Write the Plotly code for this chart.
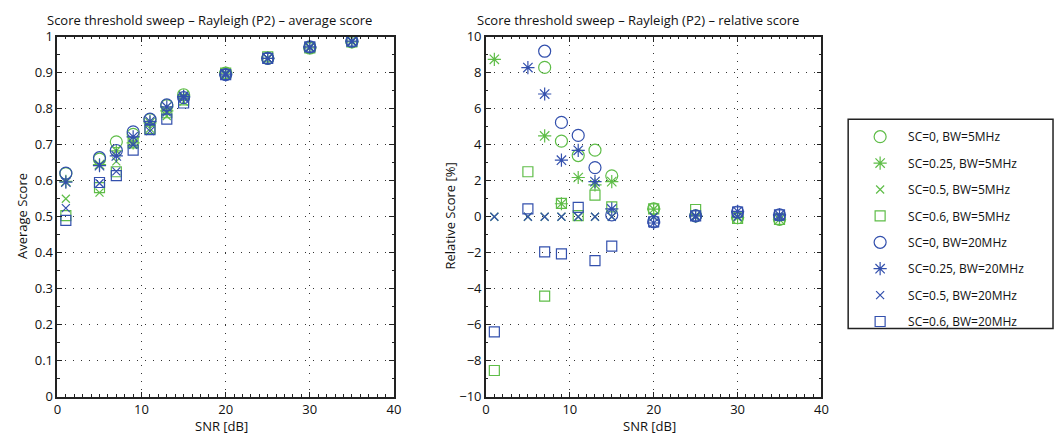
import plotly.graph_objects as go

# SNR sweep points (dB)
snr = [1, 5, 7, 9, 11, 13, 15, 20, 25, 30, 35]

# Average score per configuration
avg_sc0_bw5 = [0.620, 0.660, 0.708, 0.729, 0.770, 0.809, 0.839, 0.899, 0.940, 0.969, 0.986]
avg_sc025_bw5 = [0.598, 0.645, 0.683, 0.705, 0.761, 0.794, 0.836, 0.899, 0.940, 0.969, 0.986]
avg_sc05_bw5 = [0.550, 0.567, 0.654, 0.700, 0.745, 0.780, 0.820, 0.895, 0.940, 0.970, 0.988]
avg_sc06_bw5 = [0.503, 0.581, 0.625, 0.705, 0.745, 0.789, 0.825, 0.899, 0.944, 0.969, 0.986]
avg_sc0_bw20 = [0.621, 0.664, 0.684, 0.736, 0.771, 0.811, 0.831, 0.895, 0.940, 0.972, 0.988]
avg_sc025_bw20 = [0.596, 0.642, 0.669, 0.722, 0.765, 0.805, 0.834, 0.894, 0.940, 0.972, 0.988]
avg_sc05_bw20 = [0.524, 0.593, 0.626, 0.700, 0.738, 0.790, 0.830, 0.898, 0.940, 0.970, 0.987]
avg_sc06_bw20 = [0.490, 0.595, 0.614, 0.685, 0.742, 0.771, 0.816, 0.895, 0.940, 0.972, 0.988]

# Relative score [%] (None = outside the plotted range)
rel_sc0_bw5 = [None, None, 8.3, 4.2, 3.4, 3.7, 2.27, 0.44, 0.05, -0.05, -0.15]
rel_sc025_bw5 = [8.75, None, 4.49, 0.72, 2.18, 1.77, 1.95, 0.42, 0.05, -0.05, -0.15]
rel_sc05_bw5 = [0, 0, 0, 0, 0, 0, 0, 0, 0, 0, 0]
rel_sc06_bw5 = [-8.55, 2.5, -4.42, 0.74, 0.06, 1.2, 0.55, 0.44, 0.40, -0.1, -0.15]
rel_sc0_bw20 = [None, None, 9.2, 5.24, 4.52, 2.73, 0.1, -0.28, 0.05, 0.26, 0.1]
rel_sc025_bw20 = [None, 8.29, 6.82, 3.14, 3.69, 1.95, 0.43, -0.35, 0.05, 0.3, 0.1]
rel_sc05_bw20 = [0, 0, 0, 0, 0, 0, 0, 0, 0, 0, 0]
rel_sc06_bw20 = [-6.4, 0.43, -1.96, -2.07, 0.52, -2.44, -1.64, -0.28, 0.05, 0.26, 0.1]

labels = [
    "SC=0, BW=5MHz", "SC=0.25, BW=5MHz", "SC=0.5, BW=5MHz", "SC=0.6, BW=5MHz",
    "SC=0, BW=20MHz", "SC=0.25, BW=20MHz", "SC=0.5, BW=20MHz", "SC=0.6, BW=20MHz",
]
avg_series = [avg_sc0_bw5, avg_sc025_bw5, avg_sc05_bw5, avg_sc06_bw5,
              avg_sc0_bw20, avg_sc025_bw20, avg_sc05_bw20, avg_sc06_bw20]
rel_series = [rel_sc0_bw5, rel_sc025_bw5, rel_sc05_bw5, rel_sc06_bw5,
              rel_sc0_bw20, rel_sc025_bw20, rel_sc05_bw20, rel_sc06_bw20]

GREEN = "#5fbd48"
BLUE = "#3350ad"
colors = [GREEN] * 4 + [BLUE] * 4
symbols = ["circle-open", "asterisk-open", "x-thin-open", "square-open"] * 2
sizes = [12, 11, 8, 10] * 2

W, H = 1062, 443
FONT = "Open Sans"
FS = 13


def px_x(p):
    return p / W


def px_y(p):
    return 1 - p / H


fig = go.Figure()
for i in range(8):
    marker = dict(symbol=symbols[i], size=sizes[i], color=colors[i],
                  line=dict(color=colors[i], width=1.2))
    fig.add_trace(go.Scatter(x=snr, y=avg_series[i], mode="markers", marker=marker,
                             name=labels[i], xaxis="x", yaxis="y",
                             legendgroup=f"g{i}", showlegend=True))
    fig.add_trace(go.Scatter(x=snr, y=rel_series[i], mode="markers", marker=marker,
                             name=labels[i], xaxis="x2", yaxis="y2",
                             legendgroup=f"g{i}", showlegend=False))

axis_common = dict(
    showline=True, linecolor="#222", linewidth=1.6, mirror="allticks",
    ticks="inside", ticklen=5, tickwidth=1, tickcolor="#222",
    showgrid=True, gridcolor="#333", gridwidth=1, griddash="1px,7px",
    zeroline=False, tickfont=dict(family=FONT, size=FS, color="#111"),
)
minor_common = dict(ticklen=2.5, ticks="inside", tickcolor="#222", showgrid=False)

y_dom = [px_y(404), px_y(29)]
fig.update_layout(
    width=W, height=H, autosize=False,
    margin=dict(l=0, r=0, t=0, b=0),
    paper_bgcolor="white", plot_bgcolor="white",
    font=dict(family=FONT, size=FS, color="#111"),
    xaxis=dict(domain=[px_x(54), px_x(394)], range=[0, 40], dtick=10,
               minor=dict(dtick=1, **minor_common),
               anchor="y", **axis_common),
    yaxis=dict(domain=y_dom, range=[0, 1], dtick=0.1,
               minor=dict(dtick=0.05, **minor_common),
               anchor="x", **axis_common),
    xaxis2=dict(domain=[px_x(487), px_x(826)], range=[0, 40], dtick=10,
                minor=dict(dtick=1, **minor_common),
                anchor="y2", **axis_common),
    yaxis2=dict(domain=y_dom, range=[-10, 10], dtick=2,
                minor=dict(dtick=1, **minor_common),
                anchor="x2", **axis_common),
    legend=dict(x=px_x(857), y=px_y(118), xanchor="left", yanchor="top",
                bgcolor="rgba(0,0,0,0)", borderwidth=0,
                font=dict(family=FONT, size=12, color="#111"),
                tracegroupgap=7.4, itemwidth=46),
    showlegend=True,
)

# legend frame
fig.add_shape(type="rect", xref="paper", yref="paper",
              x0=px_x(853), x1=px_x(1060), y0=px_y(333), y1=px_y(115),
              line=dict(color="#222", width=1.5), fillcolor="rgba(0,0,0,0)")

texts = [
    ("Score threshold sweep \u2013 Rayleigh (P2) \u2013 average score", 208, 11, 0),
    ("Score threshold sweep \u2013 Rayleigh (P2) \u2013 relative score", 641, 11, 0),
    ("SNR [dB]", 220, 435, 0),
    ("SNR [dB]", 652, 435, 0),
    ("Average Score", 18, 216, -90),
    ("Relative Score [%]", 451, 216, -90),
]
for t, x, y, ang in texts:
    fig.add_annotation(text=t, x=px_x(x), y=px_y(y), xref="paper", yref="paper",
                       xanchor="center", yanchor="middle", showarrow=False,
                       textangle=ang, font=dict(family=FONT, size=FS, color="#111"))

fig.write_html("out.html")
